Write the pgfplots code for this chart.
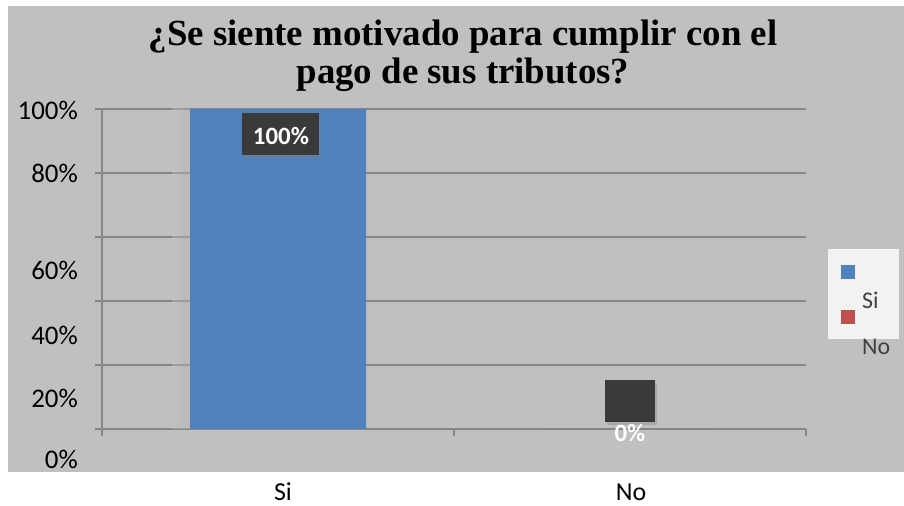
\documentclass[border=0pt]{standalone}
\usepackage{pgfplots}
\pgfplotsset{compat=1.18}
\usepackage{fontspec}
\setmainfont{Liberation Serif}
\newfontfamily\calib{Carlito}
\usetikzlibrary{shadows}
\definecolor{bg}{RGB}{192,192,192}
\definecolor{gridc}{RGB}{134,134,134}
\definecolor{barblue}{RGB}{79,129,189}
\definecolor{barred}{RGB}{192,80,77}
\definecolor{legbg}{RGB}{242,242,242}
\definecolor{lbl}{RGB}{58,58,58}
\definecolor{legtxt}{RGB}{64,64,64}
\begin{document}
\begin{tikzpicture}
\useasboundingbox (0,0) rectangle (904bp,506bp);
\fill[bg] (8bp,34bp) rectangle (904bp,500bp);
\begin{axis}[
  at={(102bp,77bp)}, anchor=south west,
  scale only axis, width=704bp, height=320bp,
  xmin=-0.5, xmax=1.5, ymin=0, ymax=100,
  axis x line*=bottom, axis y line*=left,
  axis line style={gridc, line width=1.3bp, -},
  xtick={-0.5,0.5,1.5}, xticklabels={},
  ytick={0,20,40,60,80,100}, yticklabels={},
  tick align=outside, major tick length=7bp,
  tick style={gridc, line width=1.3bp},
  ymajorgrids, major grid style={gridc, line width=1.3bp},
  clip=false,
  ybar, bar width=0.5,
]
\shade[left color=bg, right color=black!30, opacity=0.45] (axis cs:-0.30,0) rectangle (axis cs:-0.25,100);
\addplot[fill=barblue, draw=none] coordinates {(0,100) (1,0)};
\node[fill=lbl, inner sep=0, drop shadow={opacity=0.35, shadow xshift=2bp, shadow yshift=-3bp}]
  at (axis cs:0.0085,92.2) {\rule{0pt}{42bp}\rule{77bp}{0pt}};
\node[text=white, font=\calib\bfseries\fontsize{25}{29}\selectfont] at (axis cs:0.0085,91.6) {100\%};
\node[fill=lbl, inner sep=0, drop shadow={opacity=0.35, shadow xshift=2bp, shadow yshift=-3bp}]
  at (axis cs:1,8.75) {\rule{0pt}{42bp}\rule{50bp}{0pt}};
\node[text=white, font=\calib\bfseries\fontsize{25}{29}\selectfont] at (axis cs:1,-1.25) {0\%};
\end{axis}
% title
\node[anchor=base, font=\bfseries\fontsize{37}{41}\selectfont] at (463bp,460bp) {¿Se siente motivado para cumplir con el};
\node[anchor=base, font=\bfseries\fontsize{37}{41}\selectfont] at (463bp,422bp) {pago de sus tributos?};
% y labels
\begin{scope}[every node/.style={anchor=east, font=\calib\fontsize{27}{31}\selectfont, inner sep=0}]
\node at (78bp,396bp) {100\%};
\node at (78bp,333bp) {80\%};
\node at (78bp,236bp) {60\%};
\node at (78bp,171bp) {40\%};
\node at (78bp,108bp) {20\%};
\node at (78bp,47bp) {0\%};
\end{scope}
% x labels
\node[inner sep=0, font=\calib\fontsize{26}{30}\selectfont] at (283bp,14bp) {Si};
\node[inner sep=0, font=\calib\fontsize{26}{30}\selectfont] at (631bp,14bp) {No};
% legend
\fill[legbg] (828bp,167bp) rectangle (899bp,257bp);
\fill[barblue] (841bp,227bp) rectangle (855bp,241bp);
\fill[barred] (841bp,182bp) rectangle (855bp,196bp);
\node[anchor=west, inner sep=0, text=legtxt, font=\calib\fontsize{24}{28}\selectfont] at (862bp,206bp) {Si};
\node[anchor=west, inner sep=0, text=legtxt, font=\calib\fontsize{24}{28}\selectfont] at (862bp,159bp) {No};
\end{tikzpicture}
\end{document}
